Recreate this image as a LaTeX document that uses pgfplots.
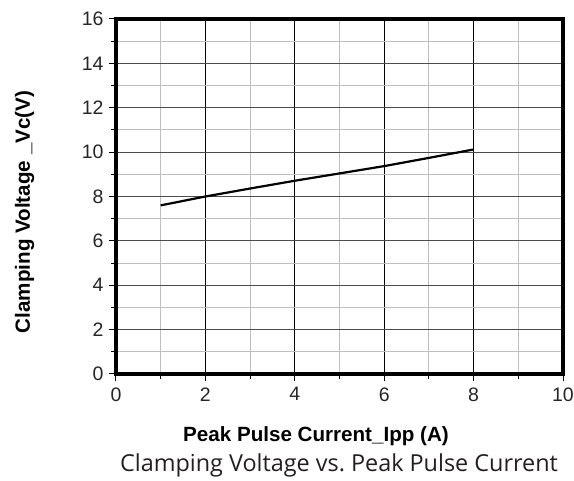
\documentclass[border=0pt]{standalone}
\usepackage{pgfplots}
\pgfplotsset{compat=1.18}
\usepackage{fontspec}
\setmainfont{Liberation Sans}
\newfontfamily\titlefont{Open Sans}
\definecolor{titlegray}{HTML}{231F20}
\frenchspacing

\begin{document}
\begin{tikzpicture}[x=1pt,y=1pt]
\useasboundingbox (0,0) rectangle (574,-481);
\begin{axis}[
  at={(116pt,-374pt)}, anchor=south west,
  scale only axis, width=447pt, height=355pt,
  xmin=0, xmax=10, ymin=0, ymax=16,
  xtick={0,2,...,10}, ytick={0,2,...,16},
  minor xtick={1,3,...,9}, minor ytick={1,3,...,15},
  grid=both,
  major x grid style={black, line width=1pt},
  major y grid style={black!70, line width=1pt},
  minor grid style={black!25, line width=1pt},
  axis line style={line width=3.5pt},
  tick style={black, line width=1pt},
  tick align=outside,
  xtick pos=lower, ytick pos=left,
  major tick length=7pt, minor tick length=5pt,
  ticklabel style={font=\fontsize{19.5}{19.5}\selectfont, text=black!85},
  /pgf/number format/assume math mode=true,
  xticklabel style={yshift=-3pt},
  yticklabel style={xshift=-2pt},
]
\addplot[black, line width=2.2pt] coordinates {
  (1,7.60) (2,8.00) (3,8.36) (4,8.71) (5,9.04) (6,9.37) (7,9.74) (8,10.12)
};
\end{axis}
\node[font=\bfseries\fontsize{20.6}{20.6}\selectfont, anchor=base] at (316,-442) {Peak Pulse Current\_Ipp (A)};
\node[font=\bfseries\fontsize{20.6}{20.6}\selectfont, rotate=90, anchor=base] at (30,-212) {Clamping Voltage \_Vc(V)};
\node[font=\titlefont\fontsize{23.4}{23.4}\selectfont, text=titlegray, anchor=base] at (339,-472) {Clamping Voltage vs.\ Peak Pulse Current};
\end{tikzpicture}
\end{document}
